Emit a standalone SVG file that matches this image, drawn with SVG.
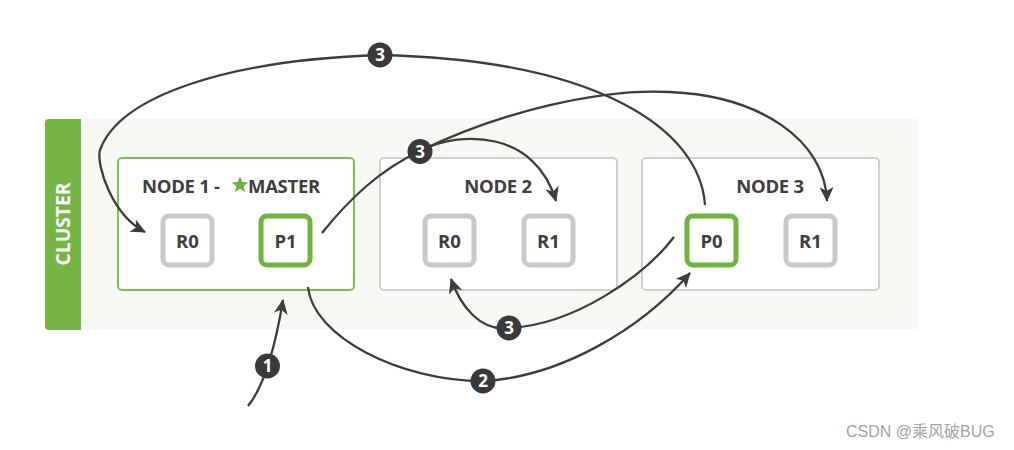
<svg xmlns="http://www.w3.org/2000/svg" width="1014" height="450" viewBox="0 0 1014 450">
<defs>
<style>
.node{fill:#ffffff;stroke-width:2}
.gnode{stroke:#7cbd4f}
.cnode{stroke:#d0d0d0}
.shard{fill:#ffffff;stroke-width:5}
.prim{stroke:#70b43f}
.rep{stroke:#c9c9c9}
.title{font-family:"Open Sans","Liberation Sans",sans-serif;font-weight:bold;font-size:18.5px;fill:#3e3e3e;letter-spacing:-0.3px}
.lbl{font-family:"Open Sans","Liberation Sans",sans-serif;font-weight:bold;font-size:18.5px;fill:#3e3e3e;text-anchor:middle}
.conn{fill:none;stroke:#3d3d3d;stroke-width:2.3;marker-end:url(#ah)}
.badge circle{fill:#3a3a3a}
.badge text{font-family:"Open Sans","Liberation Sans",sans-serif;font-weight:bold;font-size:17px;fill:#ffffff;text-anchor:middle}
</style>
<marker id="ah" markerUnits="userSpaceOnUse" markerWidth="16" markerHeight="14" refX="14" refY="7" orient="auto">
<path d="M0,0 L15,7 L0,14 L4,7 z" fill="#3d3d3d"/>
</marker>
</defs>
<rect width="1014" height="450" fill="#ffffff"/>
<g id="cluster">
<rect x="45" y="119" width="873" height="210" fill="#f6f8f3"/>
<path d="M49,119 H81 V330 H49 Q45,330 45,326 V123 Q45,119 49,119 Z" fill="#74b545"/>
<text transform="translate(69.5,224) rotate(-90)" text-anchor="middle" font-family="'Open Sans','Liberation Sans',sans-serif" font-weight="bold" font-size="20" fill="#ffffff" textLength="83" lengthAdjust="spacingAndGlyphs">CLUSTER</text>
</g>
<g id="node1">
<rect class="node gnode" x="118" y="158" width="236" height="132" rx="4"/>
<text class="title" x="142" y="193">NODE 1 -</text>
<polygon points="240,176.5 242.3,182 248.2,182.4 243.7,186.2 245.1,192 240,188.8 234.9,192 236.3,186.2 231.8,182.4 237.7,182" fill="#6fb43f"/>
<text class="title" x="248" y="193">MASTER</text>
<g id="n1r0"><rect class="shard rep" x="163" y="216" width="49" height="49" rx="6"/><text class="lbl" x="187.5" y="247.5">R0</text></g>
<g id="n1p1"><rect class="shard prim" x="261" y="216" width="49" height="49" rx="6"/><text class="lbl" x="285.5" y="247.5">P1</text></g>
</g>
<g id="node2">
<rect class="node cnode" x="380" y="158" width="237" height="132" rx="4"/>
<text class="title" x="498" y="193" text-anchor="middle">NODE 2</text>
<g id="n2r0"><rect class="shard rep" x="425" y="216" width="49" height="49" rx="6"/><text class="lbl" x="449.5" y="247.5">R0</text></g>
<g id="n2r1"><rect class="shard rep" x="524" y="216" width="49" height="49" rx="6"/><text class="lbl" x="548.5" y="247.5">R1</text></g>
</g>
<g id="node3">
<rect class="node cnode" x="642" y="158" width="237" height="132" rx="4"/>
<text class="title" x="770" y="193" text-anchor="middle">NODE 3</text>
<g id="n3p0"><rect class="shard prim" x="687" y="216" width="49" height="49" rx="6"/><text class="lbl" x="711.5" y="247.5">P0</text></g>
<g id="n3r1"><rect class="shard rep" x="786" y="216" width="49" height="49" rx="6"/><text class="lbl" x="810.5" y="247.5">R1</text></g>
</g>
<g id="connectors">
<path class="conn" d="M248,406 Q270,379 283,300"/>
<path class="conn" d="M308,287 C313,337 400,381 483,381 C560,377 640,330 690,273"/>
<path class="conn" d="M674,237 C645,275 575,325 509,328 C480,332 460,305 451,279"/>
<path class="conn" d="M705,205 C700,130 600,60 380,55 C230,60 120,95 100,150 C96,165 112,215 145,232"/>
<path class="conn" d="M322,233 C350,198 380,170 420,151 C500,112 600,88 670,92 C760,96 825,140 827,201"/>
<path class="conn" d="M420,151 C460,130 535,130 556,201"/>
</g>
<g id="badges">
<g class="badge"><circle cx="380" cy="55" r="12.5"/><text x="380" y="61">3</text></g>
<g class="badge"><circle cx="420" cy="151.5" r="12.5"/><text x="420" y="157.5">3</text></g>
<g class="badge"><circle cx="509" cy="328" r="12.5"/><text x="509" y="334">3</text></g>
<g class="badge"><circle cx="267.5" cy="366" r="12.5"/><text x="267.5" y="372">1</text></g>
<g class="badge"><circle cx="483" cy="381" r="12.5"/><text x="483" y="387">2</text></g>
</g>
<text x="846" y="437" font-family="'Liberation Sans','Noto Sans CJK SC',sans-serif" font-size="16" fill="#a3a3a3">CSDN @乘风破BUG</text>
</svg>
